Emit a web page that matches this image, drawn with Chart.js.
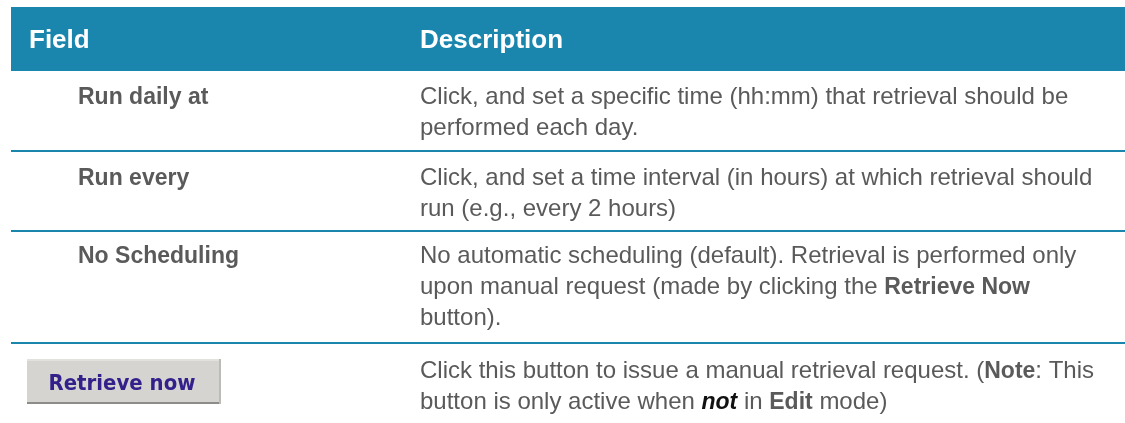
<!DOCTYPE html>
<html lang="en">
<head>
  <meta charset="UTF-8">
  <title>Retrieval Scheduling Options</title>
  <script src="https://cdn.jsdelivr.net/npm/chart.js"></script>
  <style>
      body {
          margin: 0;
          background-color: #ffffff;
      }
      #table-container {
          width: 1125px;
          height: 423px;
          position: relative;
      }
  </style>
</head>
<body>
  <div id="table-container">
      <canvas id="fieldTable"></canvas>
  </div>

  <script>
      // Table content
      var headers = ['Field', 'Description'];
      var fields = ['Run daily at', 'Run every', 'No Scheduling', ''];
      var buttonLabel = 'Retrieve now';
      // *text* = bold, _text_ = italic
      var descriptions = [
          ['Click, and set a specific time (hh:mm) that retrieval should be',
           'performed each day.'],
          ['Click, and set a time interval (in hours) at which retrieval should',
           'run (e.g., every 2 hours)'],
          ['No automatic scheduling (default). Retrieval is performed only',
           'upon manual request (made by clicking the *Retrieve Now*',
           'button).'],
          ['Click this button to issue a manual retrieval request. (*Note*: This',
           'button is only active when *_not_* in *Edit* mode)']
      ];

      var teal = '#1a86ae';
      var textGrey = '#5a5a5a';
      var fontFamily = '"Liberation Sans", Arial, sans-serif';

      // Row geometry (top of row, first baseline)
      var rowTops = [71, 151, 231, 343];
      var firstBaseline = [104, 185, 263, 378];
      var lineHeight = 31;

      function parseRuns(line) {
          var runs = [];
          var bold = false, italic = false, buf = '';
          for (var i = 0; i < line.length; i++) {
              var ch = line[i];
              if (ch === '*' || ch === '_') {
                  if (buf) runs.push({ text: buf, bold: bold, italic: italic });
                  buf = '';
                  if (ch === '*') bold = !bold; else italic = !italic;
              } else {
                  buf += ch;
              }
          }
          if (buf) runs.push({ text: buf, bold: bold, italic: italic });
          return runs;
      }

      function drawButton(ctx, x, y, w, h, label) {
          ctx.fillStyle = '#d5d4d1';
          ctx.fillRect(x, y, w, h);
          ctx.fillStyle = '#e2e1de';
          ctx.fillRect(x, y, w, 2);
          ctx.fillStyle = '#8e8c88';
          ctx.fillRect(x, y + h - 2, w, 2);
          ctx.fillStyle = '#bdbbb7';
          ctx.fillRect(x + w - 2, y, 2, h);
          ctx.fillStyle = '#33208a';
          ctx.font = 'bold 22px "DejaVu Sans", sans-serif';
          ctx.textAlign = 'center';
          ctx.textBaseline = 'alphabetic';
          ctx.fillText(label, x + w / 2 - 2, y + 31, 147);
          ctx.textAlign = 'left';
      }

      var tablePlugin = {
          id: 'tablePlugin',
          afterDraw: function (chart) {
              var ctx = chart.ctx;
              var width = chart.width;
              var left = 11;
              ctx.save();

              // header band
              ctx.fillStyle = teal;
              ctx.fillRect(left, 7, width - left, 64);
              ctx.fillStyle = '#ffffff';
              ctx.font = 'bold 26px ' + fontFamily;
              ctx.textBaseline = 'alphabetic';
              ctx.fillText(headers[0], 29, 48);
              ctx.fillText(headers[1], 420, 48);

              for (var r = 0; r < fields.length; r++) {
                  // separator line above each row except the first
                  if (r > 0) {
                      ctx.fillStyle = teal;
                      ctx.fillRect(left, rowTops[r] - 1, width - left, 2);
                  }
                  if (fields[r]) {
                      ctx.fillStyle = textGrey;
                      ctx.font = 'bold 23px ' + fontFamily;
                      ctx.fillText(fields[r], 78, firstBaseline[r]);
                  } else {
                      drawButton(ctx, 27, 359, 194, 45, buttonLabel);
                  }

                  var lines = descriptions[r];
                  for (var l = 0; l < lines.length; l++) {
                      var x = 420;
                      var y = firstBaseline[r] + l * lineHeight;
                      parseRuns(lines[l]).forEach(function (run) {
                          ctx.font = (run.italic ? 'italic ' : '') + (run.bold ? 'bold 23px ' : '24px ') + fontFamily;
                          ctx.fillStyle = run.italic ? '#111111' : textGrey;
                          ctx.fillText(run.text, x, y);
                          x += ctx.measureText(run.text).width;
                      });
                  }
              }
              ctx.restore();
          }
      };

      var ctx = document.getElementById('fieldTable').getContext('2d');
      var tableChart = new Chart(ctx, {
          type: 'bar',
          data: {
              labels: fields,
              datasets: []
          },
          options: {
              responsive: true,
              maintainAspectRatio: false,
              animation: false,
              layout: { padding: 0 },
              scales: {
                  x: { display: false },
                  y: { display: false }
              },
              plugins: {
                  legend: { display: false },
                  tooltip: { enabled: false }
              }
          },
          plugins: [tablePlugin]
      });
  </script>
</body>
</html>
